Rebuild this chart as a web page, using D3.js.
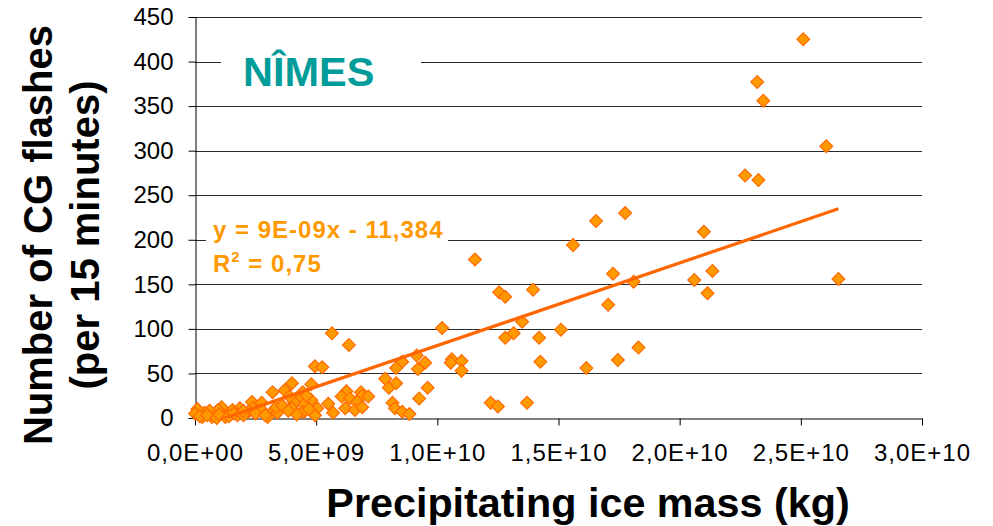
<!DOCTYPE html>
<html>
<head>
<meta charset="utf-8">
<script src="https://cdn.jsdelivr.net/npm/d3@7"></script>
<style>
  html, body { margin: 0; padding: 0; background: #fff; }
  svg { display: block; }
  text { font-family: "Liberation Sans", Arial, sans-serif; }
</style>
</head>
<body>
<svg id="chart" width="993" height="526"></svg>
<script>
// Precipitating ice mass (units of 1e9 kg) and CG flash counts per 15 minutes
const iceMassE9 = [
  25.1, 23.2, 23.45, 26.05, 22.7, 23.25,
  21.0, 21.35, 20.6, 21.15, 26.55, 18.3,
  16.55, 17.75, 17.25, 18.1, 17.05, 16.15, 17.45,
  11.55, 15.6, 12.55, 12.8, 13.95, 10.2, 13.5, 13.15, 12.8, 14.2, 15.1,
  10.6, 10.55, 11.0, 11.0, 14.25,
  12.2, 12.5, 13.7,
  7.85, 8.0, 8.3, 9.15, 9.5, 9.2, 8.55, 8.3, 9.6, 9.25, 8.15, 8.25, 8.55, 8.85,
  5.65, 6.35, 4.95, 5.25, 4.8, 4.45, 4.8, 4.4, 6.25, 6.05, 6.4, 6.85, 6.9, 7.15, 6.7, 6.2, 6.6, 6.9, 5.5, 5.05, 5.7, 4.95, 4.5,
  4.0, 3.7, 3.2, 2.35, 2.75, 2.4, 4.3, 4.1, 4.5, 4.0, 4.45, 3.2, 3.4, 1.85, 1.55, 1.1, 0.95, 0.6, 0.4, 0.1, 0.0, 0.3, 0.7, 1.25, 1.75, 2.2, 2.75, 3.0,
  0.2, 0.5, 0.9, 1.0, 1.4, 1.6, 2.0, 2.5, 2.9, 3.35, 3.6, 3.85, 4.2, 4.7, 3.9, 4.6, 2.0
];
const cgFlashes = [
  425, 377, 356, 305, 272, 267,
  209, 165, 155, 140, 156, 79,
  221, 230, 162, 153, 127, 56, 65,
  178, 194, 141, 136, 144, 101, 108, 95, 90, 90, 99,
  66, 62, 64, 53, 63,
  17, 13, 17,
  44, 34, 39, 70, 62, 55, 63, 56, 34, 22, 17, 11, 7, 4.5,
  95, 82, 58, 57, 38, 29, 20, 18, 30, 24, 22, 29, 25, 24, 18, 11, 9, 12, 16, 11, 6, 3, 7,
  39, 31, 29, 18, 17, 11, 21, 17, 15, 11, 7, 7, 6, 11, 9, 12, 9, 8, 6, 10, 5, 1, 1, 1, 3, 7, 9, 1,
  2, 3, 0, 4, 2, 5, 3, 5, 3, 12, 14, 8, 4, 10, 24, 25, 8
];

// Linear trend: y = slope * x + intercept
const trendSlope = 9.27e-9;
const trendIntercept = -11.384;
const trendText = ["y = 9E-09x - 11,384", "R", "2", " = 0,75"];

const yTicks = [0, 50, 100, 150, 200, 250, 300, 350, 400, 450];
const xTicks = [0, 5e9, 1e10, 1.5e10, 2e10, 2.5e10, 3e10];
const stationName = "NÎMES";
const xTitle = "Precipitating ice mass (kg)";
const yTitleLines = ["Number of CG flashes", "(per 15 minutes)"];

const points = iceMassE9.map((v, i) => ({ x: v * 1e9, y: cgFlashes[i] }));

const svg = d3.select("#chart");
const plotLeft = 195, plotRight = 922, plotTop = 17, plotBottom = 418;

const x = d3.scaleLinear().domain([0, 3e10]).range([plotLeft, plotRight]);
const y = d3.scaleLinear().domain([0, 450]).range([plotBottom, plotTop]);

// Horizontal gridlines
svg.append("g")
  .selectAll("line")
  .data(yTicks.filter(d => d > 0))
  .join("line")
  .attr("x1", plotLeft).attr("x2", plotRight)
  .attr("y1", d => Math.round(y(d)) + 0.5).attr("y2", d => Math.round(y(d)) + 0.5)
  .attr("stroke", "#2a2a2a").attr("stroke-width", 1);

// White backgrounds for the station label and trend equation
svg.append("rect").attr("x", 221).attr("y", 40).attr("width", 200).attr("height", 64).attr("fill", "#fff");
svg.append("rect").attr("x", 206).attr("y", 210).attr("width", 242).attr("height", 68).attr("fill", "#fff");

// Exponent labels with a decimal comma, e.g. 2,5E+10
function sciComma(v) {
  if (v === 0) return "0,0E+00";
  const e = Math.floor(Math.log10(v));
  const m = v / Math.pow(10, e);
  return m.toFixed(1).replace(".", ",") + "E+" + String(e).padStart(2, "0");
}

// Axes
const yAxis = svg.append("g")
  .attr("transform", `translate(${plotLeft + 0.5},0)`)
  .call(d3.axisLeft(y).tickValues(yTicks).tickSize(7).tickSizeOuter(0).tickPadding(15));
yAxis.selectAll("text").attr("font-size", 24).attr("fill", "#000")
  .attr("font-family", "'Liberation Sans', Arial, sans-serif");

const xAxis = svg.append("g")
  .attr("transform", `translate(0,${plotBottom + 0.5})`)
  .call(d3.axisBottom(x).tickValues(xTicks).tickFormat(sciComma).tickSize(7).tickSizeOuter(0).tickPadding(18));
xAxis.selectAll("text").attr("font-size", 24).attr("fill", "#000")
  .attr("font-family", "'Liberation Sans', Arial, sans-serif")
  .attr("letter-spacing", 1);
svg.selectAll(".domain").attr("stroke", "#000");
svg.selectAll(".tick line").attr("stroke", "#000");

// Station label
svg.append("text")
  .attr("x", 243).attr("y", 86)
  .attr("font-size", 41.5).attr("font-weight", "bold")
  .attr("fill", "#009C99")
  .text(stationName);

// Scatter markers (diamonds)
const clipId = "plotClip";
svg.append("clipPath").attr("id", clipId)
  .append("rect").attr("x", plotLeft).attr("y", plotTop - 10).attr("width", plotRight - plotLeft).attr("height", plotBottom - plotTop + 10);

const diamond = d3.symbol().type(d3.symbolSquare).size(82);
svg.append("g")
  .selectAll("path")
  .data(points)
  .join("path")
  .attr("d", diamond)
  .attr("transform", d => `translate(${x(d.x)},${y(d.y)}) rotate(45)`)
  .attr("fill", "#FF9900")
  .attr("stroke", "#FF6A00")
  .attr("stroke-width", 1.2);

// Trend line across the data range
const xMax = d3.max(points, d => d.x);
const trend = [0, xMax].map(v => ({ x: v, y: trendSlope * v + trendIntercept }));
svg.append("path")
  .datum(trend)
  .attr("clip-path", `url(#${clipId})`)
  .attr("d", d3.line().x(d => x(d.x)).y(d => y(d.y)))
  .attr("fill", "none")
  .attr("stroke", "#FF6600")
  .attr("stroke-width", 3.2);

// Trend equation
svg.append("text")
  .attr("x", 213).attr("y", 238)
  .attr("font-size", 24).attr("font-weight", "bold").attr("fill", "#FF9900")
  .attr("letter-spacing", 1)
  .text(trendText[0]);
const r2 = svg.append("text")
  .attr("x", 213).attr("y", 272)
  .attr("font-size", 24).attr("font-weight", "bold").attr("fill", "#FF9900")
  .attr("letter-spacing", 1);
r2.append("tspan").text(trendText[1]);
r2.append("tspan").attr("font-size", 15).attr("dy", -10).text(trendText[2]);
r2.append("tspan").attr("dy", 10).text(trendText[3]);

// Axis titles
svg.append("text")
  .attr("x", 588).attr("y", 517)
  .attr("text-anchor", "middle")
  .attr("font-size", 41.3).attr("font-weight", "bold")
  .text(xTitle);

svg.append("g")
  .attr("transform", "translate(52,235) rotate(-90)")
  .selectAll("text")
  .data(yTitleLines)
  .join("text")
  .attr("x", 0).attr("y", (d, i) => i * 47)
  .attr("text-anchor", "middle")
  .attr("font-size", 40).attr("font-weight", "bold")
  .text(d => d);
</script>
</body>
</html>
